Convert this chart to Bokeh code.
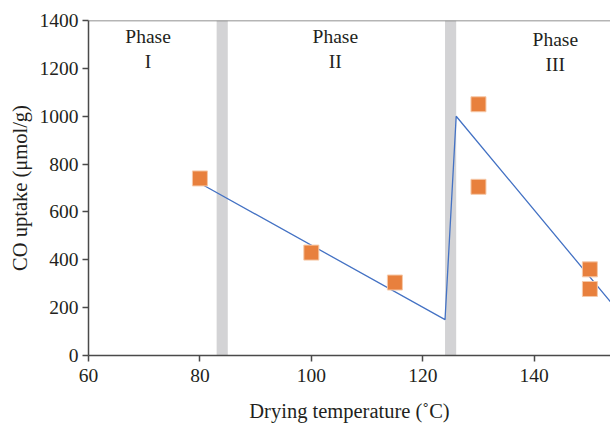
from bokeh.plotting import figure
from bokeh.models import Range1d, Span, FixedTicker
from bokeh.core.properties import value
from bokeh.embed import file_html
from bokeh.resources import INLINE

# data
pts_x = [80, 100, 115, 130, 130, 150, 150]
pts_y = [740, 430, 305, 1050, 705, 360, 278]
line_x = [80, 124, 126, 160]
line_y = [720, 150, 1000, 48]
band_left = [83, 124]
band_right = [85, 126]
phase_x = [70.7, 104.3, 143.8]
phase_word_y = [1332, 1335, 1320]
phase_num_y = [1230, 1230, 1215]
phase_nums = ["I", "II", "III"]
x_ticks = [60, 80, 100, 120, 140]
y_ticks = [0, 200, 400, 600, 800, 1000, 1200, 1400]

FONT = "Liberation Serif"
TXT = "#231f20"

p = figure(width=610, height=427, output_backend="svg", toolbar_location=None,
           x_range=Range1d(60, 153.7), y_range=Range1d(0, 1400),
           min_border_left=88, min_border_right=0, min_border_top=20, min_border_bottom=72)
p.outline_line_color = None
p.grid.grid_line_color = None
p.background_fill_color = "white"
p.border_fill_color = "white"

p.quad(left=band_left, right=band_right, bottom=0, top=1400,
       fill_color="#d3d3d5", line_color=None)
p.line(line_x, line_y, line_color="#4472C4", line_width=1.3)
p.scatter(pts_x, pts_y, marker="square", size=15, fill_color="#E8803D",
          line_color="#f6c9a8", line_width=1)

p.text(x=phase_x, y=phase_word_y, text=["Phase"] * 3, text_align="center",
       text_baseline="middle", text_font=value(FONT), text_font_size="19.5px", text_color=TXT)
p.text(x=phase_x, y=phase_num_y, text=phase_nums, text_align="center",
       text_baseline="middle", text_font=value(FONT), text_font_size="19.5px", text_color=TXT)

p.add_layout(Span(location=1400, dimension="width", line_color="#6d6d6d", line_width=1.5))

for ax in (p.xaxis[0], p.yaxis[0]):
    ax.axis_line_color = "#4a4a4a"
    ax.axis_line_width = 1.5
    ax.major_tick_line_color = "#4a4a4a"
    ax.major_tick_line_width = 1.5
    ax.major_tick_out = 6
    ax.major_tick_in = 0
    ax.minor_tick_line_color = None
    ax.major_label_text_font = FONT
    ax.major_label_text_font_size = "19.5px"
    ax.major_label_text_color = TXT
    ax.axis_label_text_font = FONT
    ax.axis_label_text_font_size = "20.5px"
    ax.axis_label_text_font_style = "normal"
    ax.axis_label_text_color = TXT

p.xaxis.ticker = FixedTicker(ticks=x_ticks)
p.yaxis.ticker = FixedTicker(ticks=y_ticks)
p.xaxis.axis_label = "Drying temperature (˚C)"
p.yaxis.axis_label = "CO uptake (μmol/g)"
p.xaxis.major_label_standoff = 7
p.xaxis.axis_label_standoff = 15
p.yaxis.major_label_standoff = 4
p.yaxis.axis_label_standoff = 6

open("out.html", "w").write(file_html(p, INLINE))
